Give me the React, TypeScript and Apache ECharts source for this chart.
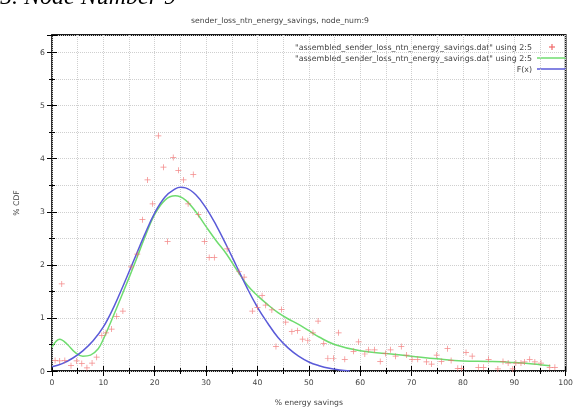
import React, { useEffect, useRef } from "react";
import * as echarts from "echarts";

const titleText = "sender_loss_ntn_energy_savings, node_num:9";
const caption = "5. Node Number 9";
const legendNames = [
  '"assembled_sender_loss_ntn_energy_savings.dat" using 2:5',
  '"assembled_sender_loss_ntn_energy_savings.dat" using 2:5',
  "F(x)",
];
const xTicks = [0, 10, 20, 30, 40, 50, 60, 70, 80, 90, 100];
const yTicks = [0, 1, 2, 3, 4, 5, 6];

const pointX = [
  0.6, 1.5, 1.9, 2.5, 3.7, 4.8, 5.8, 6.8, 7.8, 8.7, 9.7, 10.5, 11.6, 12.6, 13.8,
  15.4, 16.6, 17.6, 18.6, 19.6, 20.7, 21.7, 22.5, 23.6, 24.6, 25.6, 26.5, 27.5,
  28.5, 29.7, 30.6, 31.6, 34.1, 36.4, 37.4, 39, 40, 40.9, 41.6, 42.8, 43.6, 44.7,
  45.5, 46.7, 47.8, 48.8, 49.8, 50.8, 51.8, 52.9, 53.7, 54.8, 55.8, 57, 58.7,
  59.7, 60.9, 61.6, 62.8, 63.9, 64.9, 65.9, 66.9, 68, 69, 70.1, 71.2, 72.9, 73.9,
  74.9, 75.8, 77, 77.7, 79, 79.7, 80.6, 81.8, 83, 84, 85, 86.8, 87.8, 88.8, 89.7,
  90.3, 91.3, 92, 93, 94, 95.2, 96.9, 97.9,
];
const pointY = [
  0.2, 0.19, 1.64, 0.2, 0.1, 0.19, 0.14, 0.06, 0.15, 0.26, 0.67, 0.72, 0.79, 1.03,
  1.13, 1.96, 2.2, 2.85, 3.6, 3.15, 4.43, 3.84, 2.44, 4.02, 3.78, 3.6, 3.15, 3.7,
  2.95, 2.44, 2.14, 2.14, 2.3, 1.87, 1.77, 1.13, 1.2, 1.42, 1.24, 1.15, 0.46, 1.16,
  0.92, 0.74, 0.76, 0.6, 0.57, 0.72, 0.94, 0.52, 0.24, 0.24, 0.72, 0.22, 0.37,
  0.55, 0.32, 0.4, 0.4, 0.18, 0.33, 0.4, 0.28, 0.46, 0.3, 0.22, 0.22, 0.17, 0.13,
  0.3, 0.18, 0.42, 0.2, 0.05, 0.05, 0.35, 0.28, 0.07, 0.07, 0.22, 0.04, 0.18, 0.15,
  0.04, 0.15, 0.15, 0.17, 0.22, 0.17, 0.15, 0.07, 0.07,
];

const smoothX = [
  0, 1.5, 3, 4.5, 6, 7.5, 9, 10, 12, 14, 16, 18, 20, 22, 24, 26, 28, 30, 32, 34,
  36, 38, 40, 42, 44, 46, 48, 50, 52, 55, 60, 65, 70, 75, 80, 85, 90, 95, 97,
];
const smoothY = [
  0.45, 0.6, 0.5, 0.35, 0.28, 0.3, 0.42, 0.6, 1.05, 1.52, 2.0, 2.5, 2.95, 3.22,
  3.3, 3.22, 3.0, 2.72, 2.45, 2.2, 1.9, 1.62, 1.42, 1.25, 1.1, 0.98, 0.88, 0.76,
  0.64, 0.5, 0.38, 0.33, 0.28, 0.23, 0.19, 0.18, 0.16, 0.12, 0.1,
];

const fitX = [
  0, 2, 4, 6, 8, 10, 12, 14, 16, 18, 20, 22, 24, 25, 26, 28, 30, 32, 34, 36, 38,
  40, 42, 44, 46, 48, 50, 52, 54, 56, 58,
];
const fitY = [
  0.08, 0.14, 0.24, 0.38, 0.57, 0.83, 1.2, 1.64, 2.1, 2.56, 2.98, 3.28, 3.43, 3.46,
  3.45, 3.32, 3.07, 2.74, 2.36, 1.96, 1.56, 1.2, 0.9, 0.63, 0.43, 0.28, 0.17, 0.1,
  0.05, 0.02, 0.0,
];

const textColor = "#444";
const font = "DejaVu Sans";

export default function App() {
  const ref = useRef<HTMLDivElement>(null);
  useEffect(() => {
    if (!ref.current) return;
    const chart = echarts.init(ref.current, undefined, { renderer: "svg" });
    const plus = "path://M4.4,0H5.6V4.4H10V5.6H5.6V10H4.4V5.6H0V4.4H4.4Z";
    const gridLine = { show: true, lineStyle: { color: "#cfcfcf", type: "dotted" as const, width: 1 } };
    const legendRightText = 532;
    const legendTop = [47, 58, 69];
    const graphic: any[] = [
      {
        type: "text",
        left: 0,
        top: -16,
        style: { text: caption, fontSize: 24, fontStyle: "italic", fontFamily: "Liberation Serif", fill: "#000" },
      },
      {
        type: "text",
        x: 280,
        y: 20,
        style: { text: titleText, fontSize: 7.7, fontFamily: font, fill: textColor, align: "center", verticalAlign: "middle" },
      },
    ];
    legendNames.forEach((n, i) => {
      graphic.push({
        type: "text",
        x: legendRightText,
        y: legendTop[i],
        style: { text: n, fontSize: 7.9, fontFamily: font, fill: textColor, align: "right", verticalAlign: "middle" },
      });
    });
    graphic.push(
      { type: "line", shape: { x1: 549, y1: legendTop[0], x2: 555, y2: legendTop[0] }, style: { stroke: "#f06a6a", lineWidth: 1.2 } },
      { type: "line", shape: { x1: 552, y1: legendTop[0] - 3, x2: 552, y2: legendTop[0] + 3 }, style: { stroke: "#f06a6a", lineWidth: 1.2 } },
      { type: "line", shape: { x1: 537, y1: legendTop[1], x2: 566, y2: legendTop[1] }, style: { stroke: "#6fdc6f", lineWidth: 1.5 } },
      { type: "line", shape: { x1: 537, y1: legendTop[2], x2: 566, y2: legendTop[2] }, style: { stroke: "#5a5ad8", lineWidth: 1.5 } }
    );

    const baseX = {
      type: "value" as const,
      min: xTicks[0],
      max: xTicks[xTicks.length - 1],
      interval: 10,
      minorTick: { show: true, splitNumber: 2, length: 3, lineStyle: { color: "#000" } },
    };
    const baseY = {
      type: "value" as const,
      min: yTicks[0],
      max: 6.33,
      interval: 1,
      minorTick: { show: true, splitNumber: 2, length: 3, lineStyle: { color: "#000" } },
    };

    chart.setOption({
      animation: false,
      grid: { left: 52, right: 8, top: 35, bottom: 33, show: true, borderColor: "#1a1a1a", borderWidth: 1.8, backgroundColor: "transparent" },
      graphic,
      xAxis: [
        {
          ...baseX,
          position: "bottom",
          name: "% energy savings",
          nameLocation: "middle",
          nameGap: 27,
          nameTextStyle: { fontSize: 7.7, fontFamily: font, color: textColor },
          axisLine: { show: false },
          axisTick: { show: true, inside: true, length: 5, lineStyle: { color: "#000" } },
          axisLabel: { fontSize: 7.7, fontFamily: font, color: textColor, margin: 7 },
          splitLine: gridLine,
          minorSplitLine: gridLine,
        },
        {
          ...baseX,
          position: "top",
          axisLine: { show: false },
          axisTick: { show: true, inside: true, length: 5, lineStyle: { color: "#000" } },
          axisLabel: { show: false },
          splitLine: { show: false },
        },
      ],
      yAxis: [
        {
          ...baseY,
          position: "left",
          name: "% CDF",
          nameLocation: "middle",
          nameGap: 32,
          nameRotate: 90,
          nameTextStyle: { fontSize: 7.7, fontFamily: font, color: textColor },
          axisLine: { show: false },
          axisTick: { show: true, inside: true, length: 5, lineStyle: { color: "#000" } },
          axisLabel: { fontSize: 7.7, fontFamily: font, color: textColor, margin: 7, showMaxLabel: false },
          splitLine: gridLine,
          minorSplitLine: gridLine,
        },
        {
          ...baseY,
          position: "right",
          axisLine: { show: false },
          axisTick: { show: true, inside: true, length: 5, lineStyle: { color: "#000" } },
          axisLabel: { show: false },
          splitLine: { show: false },
        },
      ],
      series: [
        {
          name: legendNames[0],
          type: "scatter",
          symbol: plus,
          symbolSize: 6,
          itemStyle: { color: "#f06a6a" },
          data: pointX.map((x, i) => [x, pointY[i]]),
          z: 3,
        },
        {
          name: legendNames[1],
          type: "line",
          smooth: 0.4,
          showSymbol: false,
          lineStyle: { color: "#6fdc6f", width: 1.5 },
          data: smoothX.map((x, i) => [x, smoothY[i]]),
          z: 2,
        },
        {
          name: legendNames[2],
          type: "line",
          smooth: 0.4,
          showSymbol: false,
          lineStyle: { color: "#5a5ad8", width: 1.5 },
          data: fitX.map((x, i) => [x, fitY[i]]),
          z: 2,
        },
      ],
    });
    return () => chart.dispose();
  }, []);
  return <div ref={ref} style={{ position: "fixed", left: 0, top: 0, width: 576, height: 411 }} />;
}
